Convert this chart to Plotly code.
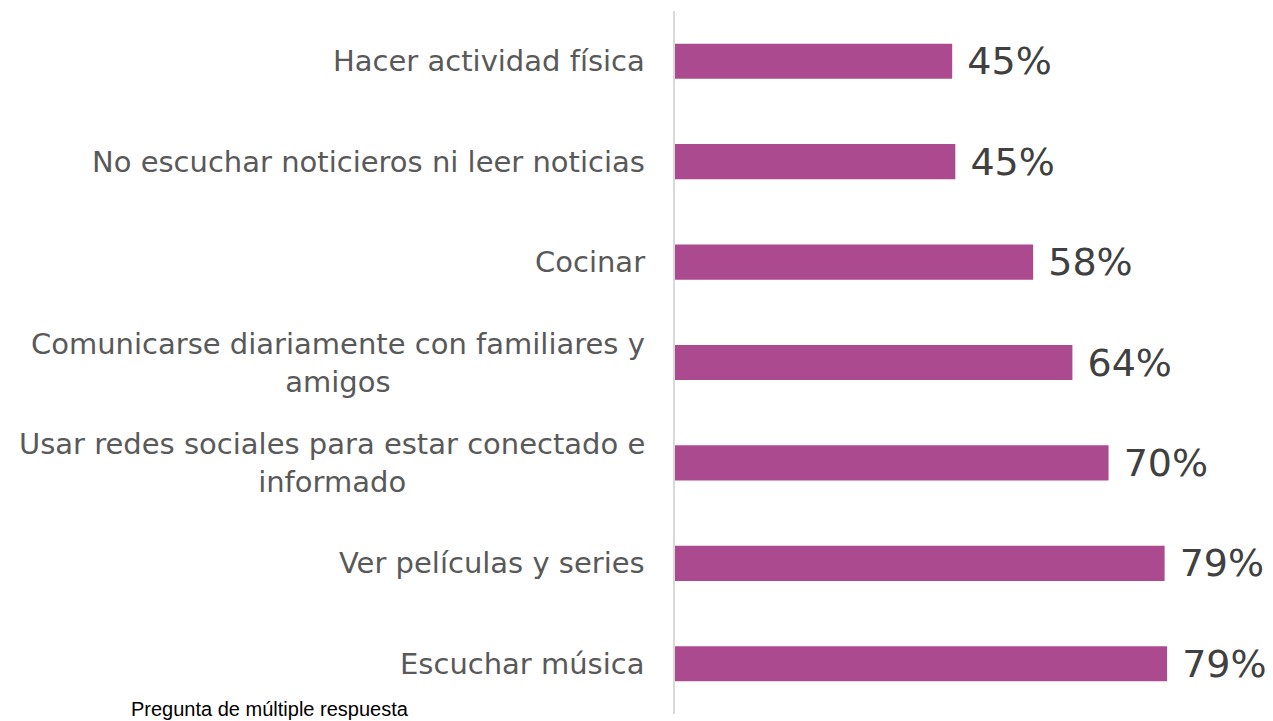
import plotly.graph_objects as go

categories = [
    "Hacer actividad física",
    "No escuchar noticieros ni leer noticias",
    "Cocinar",
    "Comunicarse diariamente con familiares y<br>amigos",
    "Usar redes sociales para estar conectado e<br>informado",
    "Ver películas y series",
    "Escuchar música",
]
values = [44.5, 45.0, 57.5, 63.8, 69.6, 78.6, 79.0]
value_labels = ["45%", "45%", "58%", "64%", "70%", "79%", "79%"]
note = "Pregunta de múltiple respuesta"

BAR_COLOR = "#AC4A8F"

# page body has an 8px default margin; compensate so the picture fills 1273x721
W, H = 1265, 713
L, T, B, R = 667, 3, 7, 0
plot_w = W - L - R

fig = go.Figure(
    go.Bar(
        x=values,
        y=categories,
        orientation="h",
        marker=dict(color=BAR_COLOR, line=dict(width=0)),
        text=value_labels,
        texttemplate=" %{text}",
        textposition="outside",
        constraintext="none",
        cliponaxis=False,
        textfont=dict(family="DejaVu Sans", size=38, color="#404040"),
        hoverinfo="skip",
    )
)

annotations = []
for cat in categories:
    annotations.append(
        dict(
            x=0, xref="paper", y=cat, yref="y",
            text=cat, showarrow=False,
            xanchor="right", yanchor="middle", align="center",
            xshift=-28,
            font=dict(family="DejaVu Sans", size=29, color="#595959"),
        )
    )

fig.update_layout(
    width=W, height=H,
    margin=dict(l=L, r=R, t=T, b=B, pad=0),
    paper_bgcolor="white", plot_bgcolor="white",
    bargap=0.65,
    showlegend=False,
    xaxis=dict(range=[0, 96], visible=False, fixedrange=True),
    yaxis=dict(
        autorange="reversed", showticklabels=False, ticks="",
        showgrid=False, zeroline=False,
        showline=True, linecolor="#d9d9d9", linewidth=1.5,
    ),
    annotations=annotations,
)

fig.add_annotation(
    x=-(675 - 130) / plot_w, xref="paper", y=0, yref="paper",
    yshift=-7,
    text=note, showarrow=False, xanchor="left", yanchor="bottom",
    borderpad=0,
    font=dict(family="Liberation Sans", size=20, color="#000000"),
)

fig.write_html("out.html")
